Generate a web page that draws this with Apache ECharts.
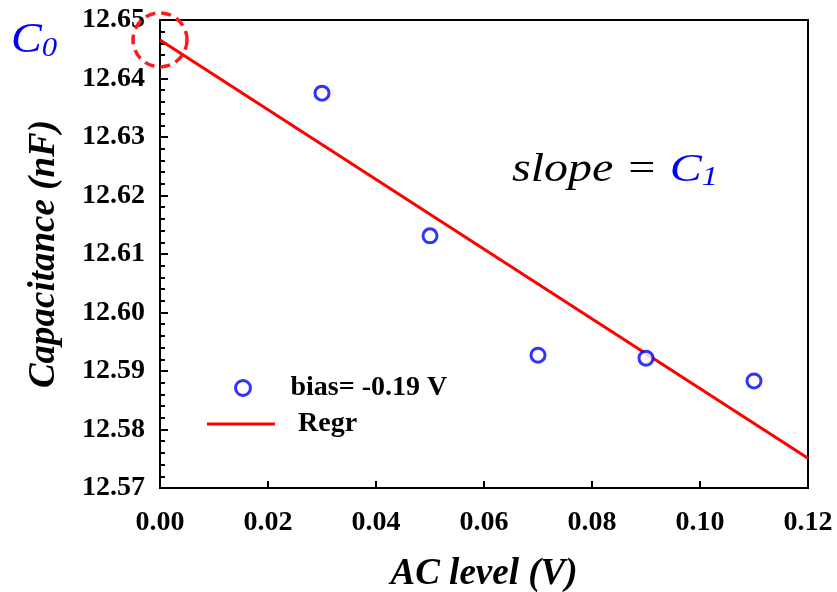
<!DOCTYPE html>
<html>
<head>
<meta charset="utf-8">
<script src="https://cdn.jsdelivr.net/npm/echarts@6/dist/echarts.min.js"></script>
<style>
  html, body { margin: 0; padding: 0; background: #fff; }
  #main { width: 837px; height: 592px; }
</style>
</head>
<body>
<div id="main"></div>
<script>
// measured points (AC level, capacitance)
const acLevel = [0.03, 0.05, 0.07, 0.09, 0.11];
const capacitance = [12.6375, 12.6131, 12.5927, 12.5922, 12.5883];
// regression line end points
const regrX = [0, 0.12];
const regrY = [12.6466, 12.5751];
const c0 = [0, 12.6466];

const serif = '"Liberation Serif", "DejaVu Serif", serif';

const chart = echarts.init(document.getElementById('main'));

const option = {
  animation: false,
  backgroundColor: '#fff',
  textStyle: { fontFamily: serif },
  grid: {
    left: 160, right: 29, top: 20, bottom: 104,
    outerBoundsMode: 'none',
    show: true, borderColor: '#000', borderWidth: 2
  },
  xAxis: {
    type: 'value',
    min: 0, max: 0.12, interval: 0.02,
    name: 'AC level (V)',
    nameLocation: 'middle',
    nameGap: 68,
    nameTextStyle: { fontSize: 37, fontStyle: 'italic', fontWeight: 'bold', color: '#000', fontFamily: serif },
    axisLine: { show: true, lineStyle: { color: '#000', width: 2 } },
    axisTick: { show: true, inside: true, length: 7, lineStyle: { color: '#000', width: 2 } },
    splitLine: { show: false },
    axisLabel: {
      color: '#000', fontSize: 28, fontWeight: 'bold', fontFamily: serif, margin: 21,
      formatter: v => v.toFixed(2)
    }
  },
  yAxis: {
    type: 'value',
    min: 12.57, max: 12.65, interval: 0.01,
    name: 'Capacitance (nF)',
    nameLocation: 'middle',
    nameGap: 97,
    nameTextStyle: { fontSize: 37, fontStyle: 'italic', fontWeight: 'bold', color: '#000', fontFamily: serif },
    axisLine: { show: true, lineStyle: { color: '#000', width: 2 } },
    axisTick: { show: true, inside: true, length: 8, lineStyle: { color: '#000', width: 2 } },
    minorTick: { show: true, splitNumber: 5, length: 5, lineStyle: { color: '#000', width: 2 } },
    splitLine: { show: false },
    axisLabel: {
      color: '#000', fontSize: 28, fontWeight: 'bold', fontFamily: serif, margin: 15,
      padding: [8, 0, 0, 0],
      formatter: v => v.toFixed(2)
    }
  },
  legend: [
    {
      left: 234, top: 374, orient: 'vertical', padding: 0,
      itemWidth: 15, itemHeight: 15,
      data: [{ name: 'bias= -0.19 V', icon: 'circle' }],
      itemStyle: { color: '#fff', borderColor: '#0000ff', borderWidth: 3 },
      textStyle: { fontSize: 28, fontWeight: 'bold', color: '#000', fontFamily: serif, padding: [0, 0, 0, 35] }
    },
    {
      left: 207, top: 410, orient: 'vertical', padding: 0,
      itemWidth: 68, itemHeight: 3,
      data: [{ name: 'Regr', icon: 'rect' }],
      textStyle: { fontSize: 28, fontWeight: 'bold', color: '#000', fontFamily: serif, padding: [0, 0, 0, 18] }
    }
  ],
  series: [
    {
      name: 'Regr',
      type: 'line',
      data: regrX.map((x, i) => [x, regrY[i]]),
      showSymbol: false,
      lineStyle: { color: '#ff0000', width: 3 },
      itemStyle: { color: '#ff0000' },
      markPoint: {
        symbol: 'circle',
        symbolSize: 54,
        silent: true,
        label: { show: false },
        itemStyle: { color: 'rgba(0,0,0,0)', borderColor: '#ff1a1a', borderWidth: 3.5, borderType: [10, 6] },
        data: [{ coord: c0 }]
      },
      z: 3
    },
    {
      name: 'bias= -0.19 V',
      type: 'scatter',
      data: acLevel.map((x, i) => [x, capacitance[i]]),
      symbol: 'circle',
      symbolSize: 14,
      itemStyle: { color: '#fff', borderColor: '#0000ff', borderWidth: 3 },
      z: 4
    }
  ],
  graphic: [
    {
      type: 'text', left: 11, top: 20, scaleX: 1.1,
      style: {
        text: '{c|C}{s|0}',
        rich: {
          c: { fontSize: 42, fontStyle: 'italic', fill: '#0000ff', fontFamily: serif },
          s: { fontSize: 28, fontStyle: 'italic', fill: '#0000ff', fontFamily: serif, verticalAlign: 'bottom', padding: [16, 0, 0, 0] }
        }
      }
    },
    {
      type: 'text', left: 512, top: 150, scaleX: 1.2,
      style: {
        text: '{t|slope = }{c|C}{s|1}',
        rich: {
          t: { fontSize: 40, fontStyle: 'italic', fill: '#000', fontFamily: serif },
          c: { fontSize: 40, fontStyle: 'italic', fill: '#0000ff', fontFamily: serif },
          s: { fontSize: 27, fontStyle: 'italic', fill: '#0000ff', fontFamily: serif, verticalAlign: 'bottom', padding: [16, 0, 0, 0] }
        }
      }
    }
  ]
};

chart.setOption(option);
</script>
</body>
</html>
